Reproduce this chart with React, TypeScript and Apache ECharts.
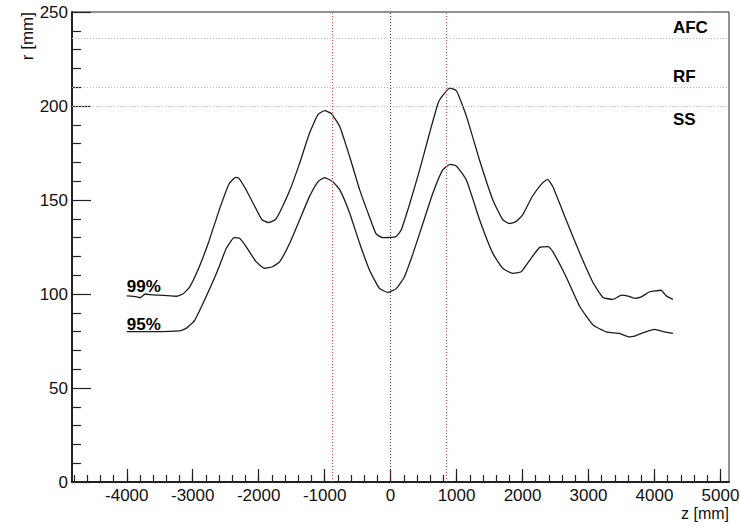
import React, { useEffect, useRef } from "react";
import * as echarts from "echarts";

// Axis ranges and ticks
const Z_MIN = -4830;
const Z_MAX = 5130;
const R_MIN = 0;
const R_MAX = 250;
const majorZTicks = [-4000, -3000, -2000, -1000, 0, 1000, 2000, 3000, 4000, 5000];
const minorZTicks: number[] = [];
for (let z = -4800; z <= 5000; z += 200) minorZTicks.push(z);

// Envelope radius vs z, 99% containment
const z99 = [
  -4000, -3850, -3800, -3720, -3600, -3450, -3250, -3150, -3050, -2900, -2750, -2600, -2450, -2350,
  -2300, -2200, -2050, -1950, -1850, -1750, -1680, -1530, -1380, -1230, -1100, -1000, -900, -770,
  -620, -470, -320, -220, -120, 80, 160, 290, 440, 590, 720, 800, 900, 1000, 1150, 1350, 1550, 1700,
  1800, 1900, 2000, 2150, 2300, 2380, 2460, 2660, 2870, 3070, 3220, 3370, 3500, 3600, 3700, 3800,
  3930, 4100, 4180, 4280,
];
const r99 = [
  99, 98.5, 98, 100, 99.5, 99.3, 98.8, 100, 103.5, 114.5, 128.5, 144.5, 158.5, 162, 161.5, 156, 146,
  139.5, 138, 139.5, 143.5, 155, 169.5, 185.5, 195.5, 197.5, 196, 189, 173, 155.5, 141, 132, 130,
  130.5, 134, 148, 166, 185.5, 201.5, 206, 209.5, 208, 194.5, 171, 150, 139.5, 137.5, 138.5, 142,
  152, 159, 161, 157, 139.5, 121.5, 106, 98.2, 97.1, 99.4, 98.9, 97.7, 98.5, 101.2, 102, 99, 97.1,
];

// Envelope radius vs z, 95% containment
const z95 = [
  -4000, -3600, -3200, -3100, -2970, -2820, -2640, -2490, -2370, -2290, -2190, -2040, -1910, -1790,
  -1680, -1530, -1380, -1230, -1100, -1000, -880, -770, -620, -470, -320, -170, -40, 90, 210, 340,
  490, 640, 790, 900, 1000, 1150, 1350, 1550, 1700, 1850, 1980, 2130, 2260, 2390, 2460, 2660, 2870,
  3070, 3270, 3470, 3620, 3700, 3830, 4000, 4150, 4280,
];
const r95 = [
  80, 80, 80.4, 81.7, 86, 96.8, 111, 124.3, 130, 129.6, 125.2, 117.2, 113.7, 114.5, 117.2, 127,
  139.4, 151.8, 159.8, 161.9, 159.8, 155.4, 143, 127, 112.8, 103, 100.9, 103, 109.2, 121.6, 137.6,
  153.6, 166, 169, 168, 160.5, 139.4, 121.6, 113.7, 111, 111.8, 119, 124.8, 125.2, 122.5, 109.2,
  93.2, 83.5, 79.9, 79, 77.2, 77.6, 79.4, 81.2, 79.9, 79,
];

// Reference radii (horizontal) and z positions (vertical)
const refNames = ["AFC", "RF", "SS"];
const refRadii = [236, 210, 200];
const refLabelPlacement = ["above", "above", "below"];
const sideZ = [-879, 850];
const centerZ = [0];

const curveNames = ["99%", "95%"];
const curveLabelAnchor = [
  [-4000, 104],
  [-4000, 84],
];

const FONT = "'Liberation Sans', Arial, Helvetica, sans-serif";
const INK = "#111";
const DOTTED = [1, 2];

// An empty series that only carries a group of dotted reference lines
const guideSeries = (key: "xAxis" | "yAxis", values: number[], color: string) => ({
  type: "line",
  data: [],
  silent: true,
  z: 1,
  markLine: {
    silent: true,
    symbol: "none",
    label: { show: false },
    animation: false,
    lineStyle: { color, width: 1, type: DOTTED, opacity: 1 },
    emphasis: { disabled: true },
    data: values.map((v) => ({ [key]: v })),
  },
});

export default function App() {
  const ref = useRef<HTMLDivElement>(null);

  useEffect(() => {
    if (!ref.current) return;
    const chart = echarts.init(ref.current, undefined, { renderer: "svg" });

    const lineSeries = (name: string, zs: number[], rs: number[]) => ({
      name,
      type: "line",
      data: zs.map((z, i) => [z, rs[i]]),
      showSymbol: false,
      smooth: 0.15,
      lineStyle: { color: "#1c1c1c", width: 1.3 },
      z: 3,
    });

    const plain = (v: number) => String(v);

    chart.setOption({
      animation: false,
      backgroundColor: "#ffffff",
      grid: {
        left: 72,
        right: 11,
        top: 12,
        bottom: 42,
        show: true,
        borderColor: "#222",
        borderWidth: 1,
        outerBoundsMode: "none",
      },
      xAxis: [
        {
          type: "value",
          min: Z_MIN,
          max: Z_MAX,
          axisLine: { show: true, onZero: false, lineStyle: { color: "#222", width: 2 } },
          axisTick: {
            show: true,
            inside: true,
            length: 13,
            customValues: majorZTicks,
            lineStyle: { color: "#222", width: 1.2 },
          },
          axisLabel: {
            show: true,
            customValues: majorZTicks,
            formatter: plain,
            margin: 5,
            color: INK,
            fontSize: 17,
            fontFamily: FONT,
          },
          splitLine: { show: false },
        },
        {
          type: "value",
          min: Z_MIN,
          max: Z_MAX,
          position: "bottom",
          axisLine: { show: false },
          axisTick: {
            show: true,
            inside: true,
            length: 7,
            customValues: minorZTicks,
            lineStyle: { color: "#222", width: 1.2 },
          },
          axisLabel: { show: false },
          splitLine: { show: false },
        },
      ],
      yAxis: {
        type: "value",
        min: R_MIN,
        max: R_MAX,
        interval: 50,
        axisLine: { show: true, onZero: false, lineStyle: { color: "#222", width: 2 } },
        axisTick: { show: true, inside: true, length: 19, lineStyle: { color: "#222", width: 1.2 } },
        minorTick: { show: true, splitNumber: 5, length: 9, lineStyle: { color: "#222", width: 1.2 } },
        axisLabel: { margin: 4, formatter: plain, color: INK, fontSize: 17, fontFamily: FONT },
        splitLine: { show: false },
      },
      series: [
        guideSeries("yAxis", refRadii, "#b4b4b4"),
        guideSeries("xAxis", sideZ, "#f03838"),
        guideSeries("xAxis", centerZ, "#9a1f1f"),
        lineSeries(curveNames[0], z99, r99),
        lineSeries(curveNames[1], z95, r95),
      ],
    });

    // Text annotations anchored to data coordinates
    const toPx = (z: number, r: number) =>
      chart.convertToPixel({ xAxisIndex: 0, yAxisIndex: 0 }, [z, r]) as number[];

    const graphics: any[] = [];
    refNames.forEach((name, i) => {
      const [px, py] = toPx(4280, refRadii[i]);
      const above = refLabelPlacement[i] === "above";
      graphics.push({
        type: "text",
        x: px,
        y: above ? py - 2 : py + 5,
        style: {
          text: name,
          fill: "#000",
          font: `bold 17px ${FONT}`,
          textAlign: "left",
          textVerticalAlign: above ? "bottom" : "top",
        },
      });
    });
    curveNames.forEach((name, i) => {
      const [px, py] = toPx(curveLabelAnchor[i][0], curveLabelAnchor[i][1]);
      graphics.push({
        type: "text",
        x: px,
        y: py,
        style: {
          text: name,
          fill: "#000",
          font: `bold 17px ${FONT}`,
          textAlign: "left",
          textVerticalAlign: "middle",
        },
      });
    });
    // Axis titles
    const [, topPx] = toPx(Z_MIN, R_MAX);
    const [rightPx, bottomPx] = toPx(Z_MAX, R_MIN);
    graphics.push({
      type: "text",
      x: 27,
      y: topPx,
      rotation: Math.PI / 2,
      style: {
        text: "r [mm]",
        fill: INK,
        font: `17px ${FONT}`,
        textAlign: "right",
        textVerticalAlign: "middle",
      },
    });
    graphics.push({
      type: "text",
      x: rightPx,
      y: bottomPx + 31,
      style: {
        text: "z [mm]",
        fill: INK,
        font: `16px ${FONT}`,
        textAlign: "right",
        textVerticalAlign: "middle",
      },
    });
    chart.setOption({ graphic: graphics });

    return () => chart.dispose();
  }, []);

  return (
    <div
      ref={ref}
      style={{ position: "fixed", left: 0, top: 0, width: 740, height: 524 }}
    />
  );
}
